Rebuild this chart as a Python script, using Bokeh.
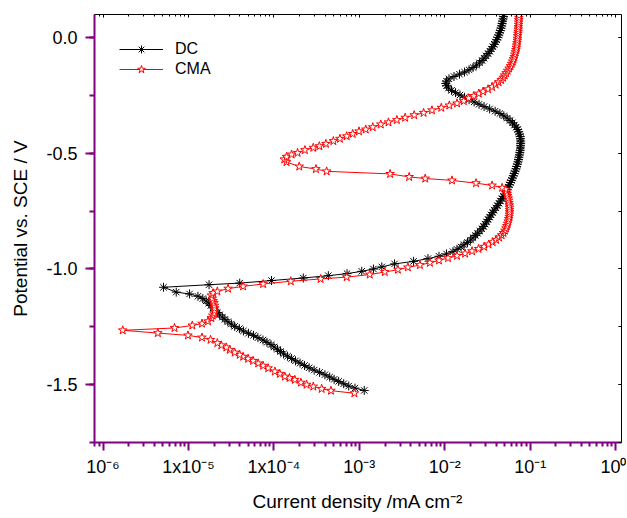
import numpy as np
from bokeh.plotting import figure
from bokeh.models import (LogAxis, LinearAxis, FixedTicker, SingleIntervalTicker,
                          CustomJSTickFormatter, NumeralTickFormatter, Legend,
                          LegendItem, ColumnDataSource, Range1d)
from bokeh.embed import file_html
from bokeh.resources import INLINE

# ---------------- data (potential in V vs SCE, log10 of current density in mA cm^-2) ----------------
dc_potential = [
    -1.525, -1.515, -1.506, -1.496, -1.486, -1.477, -1.467, -1.457, -1.447, -1.437,
    -1.427, -1.417, -1.407, -1.397, -1.387, -1.377, -1.367, -1.357, -1.347, -1.337,
    -1.327, -1.317, -1.307, -1.297, -1.287, -1.278, -1.268, -1.258, -1.248, -1.238,
    -1.228, -1.218, -1.208, -1.198, -1.188, -1.178, -1.168, -1.158, -1.148, -1.138,
    -1.128, -1.118, -1.108, -1.100, -1.079,
    -1.068, -1.061, -1.050, -1.039, -1.029, -1.020, -1.010, -1.000, -0.991, -0.978, -0.967, -0.955,
    -0.945, -0.935, -0.925, -0.915, -0.905, -0.895, -0.885, -0.875, -0.865, -0.855,
    -0.846, -0.836, -0.826, -0.816, -0.806, -0.796, -0.786, -0.776, -0.766, -0.756,
    -0.746, -0.736, -0.726, -0.716, -0.706, -0.696, -0.686, -0.676, -0.666, -0.656,
    -0.646, -0.636, -0.626, -0.617, -0.607, -0.597, -0.587, -0.577, -0.567, -0.557,
    -0.547, -0.537, -0.527, -0.517, -0.507, -0.497, -0.487, -0.477, -0.467, -0.457,
    -0.447, -0.437, -0.427, -0.417, -0.407, -0.397, -0.387, -0.378, -0.368, -0.358,
    -0.348, -0.338, -0.328, -0.318, -0.308, -0.298, -0.288, -0.278, -0.268, -0.258,
    -0.248, -0.238, -0.228, -0.218, -0.208, -0.198, -0.188, -0.178, -0.168, -0.158,
    -0.149, -0.139, -0.129, -0.119, -0.109, -0.099, -0.089, -0.079, -0.069, -0.059,
    -0.049, -0.039, -0.029, -0.019, -0.009, 0.001, 0.011, 0.021, 0.031, 0.041,
    0.051, 0.061, 0.071, 0.081, 0.091, 0.100,
]
dc_log_current = [
    -2.943, -3.051, -3.124, -3.183, -3.242, -3.295, -3.347, -3.403, -3.465, -3.529,
    -3.588, -3.641, -3.694, -3.747, -3.793, -3.840, -3.887, -3.923, -3.958, -3.999,
    -4.034, -4.081, -4.128, -4.187, -4.239, -4.298, -4.357, -4.404, -4.459, -4.498,
    -4.539, -4.574, -4.603, -4.635, -4.662, -4.688, -4.711, -4.738, -4.762, -4.793,
    -4.832, -4.889, -4.987, -5.143, -5.292,
    -4.759, -4.400, -4.028, -3.656, -3.363, -3.144, -2.972, -2.835, -2.737, -2.588, -2.365, -2.197,
    -2.068, -1.980, -1.904, -1.857, -1.810, -1.775, -1.734, -1.698, -1.669, -1.642,
    -1.616, -1.590, -1.566, -1.546, -1.528, -1.511, -1.493, -1.475, -1.458, -1.440,
    -1.423, -1.401, -1.384, -1.366, -1.349, -1.331, -1.315, -1.298, -1.284, -1.270,
    -1.256, -1.243, -1.231, -1.220, -1.208, -1.197, -1.188, -1.176, -1.167, -1.159,
    -1.150, -1.143, -1.137, -1.132, -1.127, -1.122, -1.117, -1.115, -1.113, -1.112,
    -1.112, -1.114, -1.117, -1.126, -1.135, -1.147, -1.164, -1.184, -1.208, -1.237,
    -1.270, -1.309, -1.355, -1.411, -1.475, -1.540, -1.599, -1.657, -1.716, -1.769,
    -1.822, -1.874, -1.921, -1.957, -1.980, -1.988, -1.980, -1.951, -1.892, -1.828,
    -1.769, -1.716, -1.669, -1.628, -1.593, -1.563, -1.540, -1.516, -1.493, -1.472,
    -1.454, -1.437, -1.420, -1.405, -1.392, -1.380, -1.369, -1.359, -1.350, -1.342,
    -1.335, -1.329, -1.323, -1.318, -1.313, -1.309,
]
cma_potential = [
    -1.537, -1.526, -1.518, -1.508, -1.500, -1.491, -1.479, -1.471, -1.465, -1.453,
    -1.443, -1.429, -1.418, -1.408, -1.397, -1.388, -1.379, -1.371, -1.361, -1.349,
    -1.339, -1.330, -1.320, -1.306, -1.296, -1.287, -1.277, -1.265,
    -1.255, -1.244, -1.236, -1.226, -1.212, -1.201, -1.191, -1.180, -1.169, -1.158,
    -1.147, -1.138, -1.128, -1.114, -1.104, -1.097, -1.085, -1.075, -1.065, -1.053,
    -1.043, -1.035, -1.024, -1.013, -1.003, -0.993, -0.983, -0.973, -0.963, -0.953,
    -0.943, -0.933, -0.923, -0.913, -0.904, -0.894, -0.884, -0.874, -0.864, -0.854,
    -0.844, -0.834, -0.824, -0.814, -0.804, -0.794, -0.784, -0.774, -0.764, -0.754,
    -0.744, -0.734, -0.724, -0.714, -0.704, -0.694, -0.684, -0.675, -0.665, -0.656,
    -0.649, -0.639, -0.629, -0.617, -0.609, -0.602, -0.589, -0.578, -0.568, -0.557,
    -0.538, -0.526,
    -0.515, -0.505, -0.498, -0.486, -0.476, -0.469, -0.459, -0.447, -0.437, -0.426,
    -0.416, -0.405, -0.397, -0.387, -0.375, -0.366, -0.356, -0.346, -0.335, -0.325,
    -0.314, -0.303, -0.293, -0.284, -0.274, -0.262, -0.252, -0.242, -0.233, -0.223,
    -0.213, -0.203, -0.193, -0.183, -0.173, -0.163, -0.153, -0.143, -0.133, -0.123,
    -0.113, -0.103, -0.093, -0.083, -0.073, -0.063, -0.053, -0.043, -0.033, -0.023,
    -0.013, -0.004, 0.007, 0.017, 0.026, 0.036, 0.046, 0.056, 0.066, 0.076,
    0.086, 0.096,
]
cma_log_current = [
    -3.058, -3.332, -3.441, -3.539, -3.617, -3.684, -3.755, -3.817, -3.872, -3.931,
    -3.989, -4.067, -4.126, -4.184, -4.243, -4.302, -4.360, -4.400, -4.459, -4.518,
    -4.556, -4.615, -4.662, -4.741, -4.842, -5.006, -5.358, -5.769,
    -5.163, -4.955, -4.842, -4.771, -4.732, -4.715, -4.701, -4.695, -4.694, -4.696,
    -4.701, -4.711, -4.721, -4.732, -4.712, -4.662, -4.536, -4.360, -4.126, -3.802,
    -3.453, -3.148, -2.878, -2.702, -2.549, -2.432, -2.291, -2.174, -2.068, -1.962,
    -1.857, -1.763, -1.681, -1.605, -1.540, -1.487, -1.440, -1.399, -1.364, -1.335,
    -1.313, -1.296, -1.284, -1.274, -1.265, -1.258, -1.252, -1.247, -1.244, -1.242,
    -1.242, -1.243, -1.245, -1.249, -1.254, -1.258, -1.264, -1.270, -1.279, -1.290,
    -1.329, -1.446, -1.634, -1.916, -2.229, -2.417, -2.640, -3.383, -3.508, -3.703,
    -3.852, -3.879,
    -3.852, -3.793, -3.723, -3.637, -3.539, -3.468, -3.391, -3.304, -3.227, -3.148,
    -3.078, -3.004, -2.925, -2.843, -2.749, -2.659, -2.561, -2.464, -2.358, -2.248,
    -2.150, -2.041, -1.947, -1.857, -1.778, -1.720, -1.661, -1.602, -1.552, -1.493,
    -1.446, -1.405, -1.370, -1.340, -1.317, -1.299, -1.282, -1.264, -1.247, -1.231,
    -1.217, -1.205, -1.196, -1.188, -1.180, -1.173, -1.167, -1.162, -1.159, -1.155,
    -1.151, -1.149, -1.147, -1.144, -1.142, -1.140, -1.139, -1.136, -1.135, -1.134,
    -1.133, -1.132,
]
series_names = ["DC", "CMA"]
x_tick_values = [1e-6, 1e-5, 1e-4, 1e-3, 1e-2, 1e-1, 1.0]
x_tick_labels = ["10⁻⁶", "1x10⁻⁵", "1x10⁻⁴", "10⁻³", "10⁻²", "10⁻¹", "10⁰"]
x_label = "Current density /mA cm⁻²"
y_label = "Potential vs. SCE / V"

# ---------------- figure ----------------
FONT = "Liberation Sans"
PURPLE = "#800080"

x_minor = [m * d for d in [1e-7, 1e-6, 1e-5, 1e-4, 1e-3, 1e-2, 1e-1] for m in range(2, 10)]

p = figure(width=626, height=516, x_axis_type="log",
           x_range=Range1d(7.95e-7, 1.17), y_range=Range1d(-1.75, 0.1),
           output_backend="svg", toolbar_location=None,
           min_border_left=94, min_border_right=5, min_border_top=14, min_border_bottom=74)
p.outline_line_color = None
p.xgrid.visible = False
p.ygrid.visible = False
p.background_fill_color = "white"
p.border_fill_color = "white"

x_fmt = CustomJSTickFormatter(args=dict(vals=x_tick_values, labs=x_tick_labels), code="""
const i = vals.findIndex(v => Math.abs(Math.log10(v) - Math.log10(tick)) < 1e-6);
return i >= 0 ? labs[i] : '';
""")

xa = p.xaxis[0]
xa.ticker = FixedTicker(ticks=x_tick_values, minor_ticks=x_minor)
xa.formatter = x_fmt
xa.axis_line_color = PURPLE
xa.axis_line_width = 2
xa.major_tick_line_color = PURPLE
xa.major_tick_line_width = 2
xa.minor_tick_line_color = PURPLE
xa.minor_tick_line_width = 2
xa.major_tick_out = 8
xa.major_tick_in = 0
xa.minor_tick_out = 4
xa.minor_tick_in = 0
xa.major_label_text_font = FONT
xa.major_label_text_font_size = "18px"
xa.major_label_text_color = "black"
xa.major_label_standoff = 6
xa.axis_label = x_label
xa.axis_label_text_font = FONT
xa.axis_label_text_font_size = "19px"
xa.axis_label_text_font_style = "normal"
xa.axis_label_text_color = "black"
xa.axis_label_standoff = 11

ya = p.yaxis[0]
ya.ticker = SingleIntervalTicker(interval=0.5, num_minor_ticks=2)
ya.formatter = NumeralTickFormatter(format="0.0")
ya.axis_line_color = PURPLE
ya.axis_line_width = 2
ya.major_tick_line_color = PURPLE
ya.major_tick_line_width = 2
ya.minor_tick_line_color = PURPLE
ya.minor_tick_line_width = 2
ya.major_tick_out = 9
ya.major_tick_in = 0
ya.minor_tick_out = 5
ya.minor_tick_in = 0
ya.major_label_text_font = FONT
ya.major_label_text_font_size = "18px"
ya.major_label_text_color = "black"
ya.major_label_standoff = 8
ya.axis_label = y_label
ya.axis_label_text_font = FONT
ya.axis_label_text_font_size = "19px"
ya.axis_label_text_font_style = "normal"
ya.axis_label_text_color = "black"
ya.axis_label_standoff = 12

empty_fmt = CustomJSTickFormatter(code="return '';")
top = LogAxis(ticker=FixedTicker(ticks=x_tick_values, minor_ticks=x_minor), formatter=empty_fmt,
              axis_line_color="black", axis_line_width=1,
              major_tick_in=3, major_tick_out=0, minor_tick_in=2, minor_tick_out=0,
              major_tick_line_color="black", minor_tick_line_color="black",
              major_label_text_font_size="0px", major_label_standoff=0)
p.add_layout(top, "above")
right = LinearAxis(ticker=SingleIntervalTicker(interval=0.5, num_minor_ticks=2), formatter=empty_fmt,
                   axis_line_color="black", axis_line_width=1,
                   major_tick_in=3, major_tick_out=0, minor_tick_in=3, minor_tick_out=0,
                   major_tick_line_color="black", minor_tick_line_color="black",
                   major_label_text_font_size="0px", major_label_standoff=0)
p.add_layout(right, "right")

dc_src = ColumnDataSource(dict(x=10 ** np.array(dc_log_current), y=np.array(dc_potential)))
cma_src = ColumnDataSource(dict(x=10 ** np.array(cma_log_current), y=np.array(cma_potential)))

dc_line = p.line("x", "y", source=dc_src, line_color="black", line_width=1)
dc_pts = p.scatter("x", "y", source=dc_src, marker="asterisk", size=9,
                   line_color="black", line_width=1)
cma_line = p.line("x", "y", source=cma_src, line_color="#ff0000", line_width=1)
cma_pts = p.scatter("x", "y", source=cma_src, marker="star", size=9,
                    line_color="#ff0000", fill_color="white", line_width=1)

legend = Legend(items=[LegendItem(label=series_names[0], renderers=[dc_line, dc_pts]),
                       LegendItem(label=series_names[1], renderers=[cma_line, cma_pts])],
                location="top_left", margin=25, padding=10, spacing=0,
                glyph_width=44, glyph_height=20, label_height=20, label_standoff=12,
                label_text_font=FONT, label_text_font_size="16px", label_text_color="black",
                border_line_color=None, background_fill_alpha=0.0)
p.add_layout(legend)

open("out.html", "w").write(file_html(p, INLINE))
